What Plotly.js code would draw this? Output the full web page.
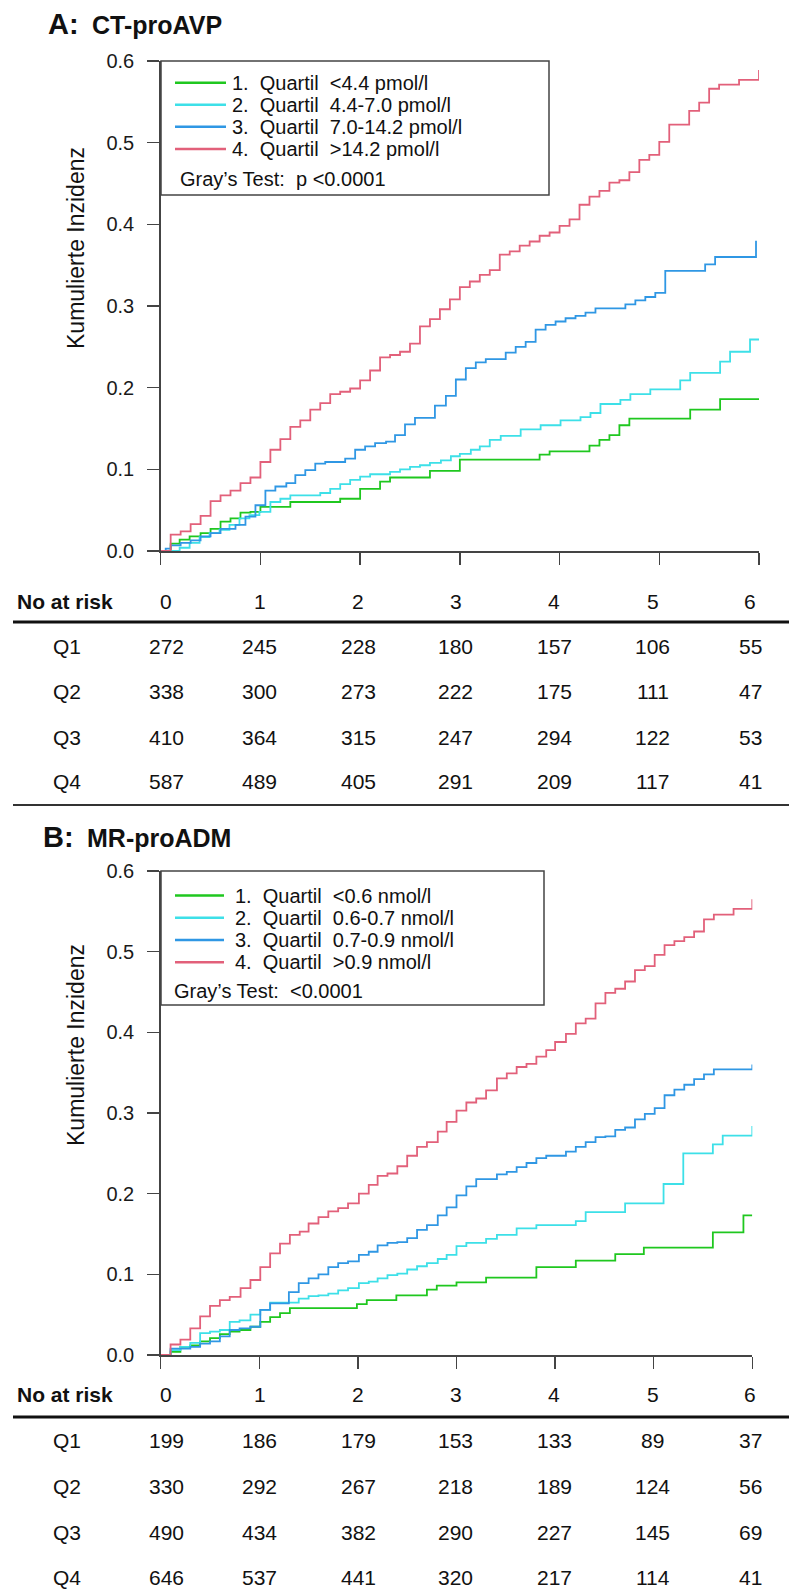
<!DOCTYPE html>
<html>
<head>
<meta charset="utf-8">
<script src="https://cdn.plot.ly/plotly-3.0.1.min.js"></script>
<style>
  html, body { margin: 0; padding: 0; background: #ffffff; }
  #chart { width: 789px; height: 1592px; }
</style>
</head>
<body>
<div id="chart"></div>
<script>
// ---------------- DATA ----------------
const seriesNames = ['Q1', 'Q2', 'Q3', 'Q4'];
const seriesColors = ['#1FC71F', '#3DE0E8', '#2F97E4', '#E2607A'];

// Panel A: CT-proAVP (time in years, cumulative incidence)
const A_Q1_t = [0, 0.10, 0.19, 0.29, 0.40, 0.50, 0.60, 0.70, 0.80, 0.90, 1.00, 1.30, 1.80, 2.00, 2.20, 2.30, 2.70, 3.00, 3.80, 3.90, 4.30, 4.40, 4.50, 4.60, 4.70, 5.31, 5.61, 6.00];
const A_Q1_v = [0, 0.009, 0.014, 0.018, 0.022, 0.027, 0.036, 0.040, 0.047, 0.048, 0.054, 0.060, 0.064, 0.076, 0.085, 0.090, 0.098, 0.112, 0.118, 0.122, 0.129, 0.136, 0.142, 0.154, 0.162, 0.173, 0.186, 0.186];

const A_Q2_t = [0, 0.19, 0.29, 0.39, 0.49, 0.59, 0.69, 0.79, 0.89, 0.99, 1.10, 1.20, 1.30, 1.60, 1.70, 1.80, 1.90, 2.00, 2.10, 2.30, 2.40, 2.50, 2.60, 2.70, 2.81, 2.91, 3.00, 3.11, 3.20, 3.30, 3.41, 3.61, 3.81, 4.01, 4.21, 4.31, 4.41, 4.61, 4.71, 4.91, 5.21, 5.31, 5.61, 5.71, 5.91, 6.00];
const A_Q2_v = [0, 0.004, 0.010, 0.017, 0.022, 0.026, 0.032, 0.040, 0.044, 0.048, 0.060, 0.064, 0.068, 0.071, 0.076, 0.082, 0.087, 0.091, 0.094, 0.097, 0.100, 0.103, 0.105, 0.108, 0.111, 0.116, 0.119, 0.124, 0.128, 0.136, 0.141, 0.149, 0.154, 0.160, 0.164, 0.169, 0.180, 0.185, 0.192, 0.198, 0.209, 0.218, 0.232, 0.244, 0.259, 0.259];

const A_Q3_t = [0, 0.05, 0.10, 0.20, 0.30, 0.40, 0.50, 0.60, 0.75, 0.85, 0.95, 1.05, 1.15, 1.26, 1.35, 1.45, 1.55, 1.65, 1.85, 1.95, 2.05, 2.15, 2.26, 2.35, 2.45, 2.55, 2.75, 2.86, 2.96, 3.06, 3.16, 3.26, 3.46, 3.56, 3.66, 3.76, 3.86, 3.96, 4.06, 4.16, 4.26, 4.36, 4.66, 4.76, 4.86, 4.96, 5.06, 5.46, 5.56, 5.97];
const A_Q3_v = [0, 0.003, 0.007, 0.010, 0.013, 0.018, 0.022, 0.027, 0.032, 0.042, 0.056, 0.074, 0.079, 0.083, 0.093, 0.099, 0.107, 0.109, 0.113, 0.124, 0.128, 0.132, 0.134, 0.142, 0.155, 0.163, 0.178, 0.190, 0.210, 0.224, 0.231, 0.235, 0.243, 0.250, 0.256, 0.271, 0.277, 0.281, 0.285, 0.288, 0.292, 0.297, 0.302, 0.307, 0.311, 0.316, 0.343, 0.351, 0.360, 0.380];

const A_Q4_t = [0, 0.1, 0.2, 0.3, 0.4, 0.5, 0.6, 0.7, 0.8, 0.9, 1.0, 1.1, 1.2, 1.3, 1.4, 1.5, 1.6, 1.7, 1.8, 1.9, 2.0, 2.1, 2.2, 2.3, 2.4, 2.5, 2.6, 2.7, 2.8, 2.9, 3.0, 3.1, 3.2, 3.3, 3.4, 3.5, 3.6, 3.7, 3.8, 3.9, 4.0, 4.1, 4.2, 4.3, 4.4, 4.5, 4.6, 4.7, 4.8, 4.9, 5.0, 5.1, 5.3, 5.4, 5.5, 5.6, 5.8, 6.0];
const A_Q4_v = [0, 0.020, 0.024, 0.033, 0.043, 0.061, 0.068, 0.074, 0.083, 0.090, 0.109, 0.124, 0.137, 0.152, 0.160, 0.173, 0.181, 0.192, 0.195, 0.199, 0.209, 0.221, 0.237, 0.240, 0.244, 0.254, 0.275, 0.284, 0.296, 0.308, 0.323, 0.330, 0.338, 0.344, 0.363, 0.367, 0.374, 0.379, 0.386, 0.390, 0.398, 0.406, 0.424, 0.434, 0.441, 0.451, 0.454, 0.464, 0.479, 0.485, 0.501, 0.522, 0.539, 0.549, 0.566, 0.571, 0.577, 0.589];

// Panel B: MR-proADM
const B_Q1_t = [0, 0.10, 0.20, 0.30, 0.40, 0.50, 0.60, 0.70, 0.80, 0.91, 1.01, 1.11, 1.21, 1.31, 1.99, 2.09, 2.39, 2.70, 2.80, 3.00, 3.30, 3.81, 4.21, 4.61, 4.90, 5.60, 5.91, 6.00];
const B_Q1_v = [0, 0.004, 0.010, 0.012, 0.017, 0.021, 0.026, 0.029, 0.031, 0.035, 0.041, 0.047, 0.052, 0.058, 0.063, 0.068, 0.074, 0.081, 0.086, 0.090, 0.096, 0.109, 0.117, 0.125, 0.133, 0.152, 0.173, 0.173];

const B_Q2_t = [0, 0.10, 0.20, 0.30, 0.40, 0.50, 0.60, 0.70, 0.80, 0.91, 1.01, 1.11, 1.40, 1.50, 1.60, 1.70, 1.80, 1.90, 2.01, 2.11, 2.20, 2.30, 2.40, 2.50, 2.60, 2.70, 2.81, 2.90, 3.00, 3.10, 3.30, 3.41, 3.61, 3.81, 4.21, 4.31, 4.71, 5.10, 5.30, 5.60, 5.70, 6.00];
const B_Q2_v = [0, 0.006, 0.010, 0.015, 0.027, 0.029, 0.031, 0.041, 0.043, 0.050, 0.056, 0.065, 0.070, 0.073, 0.074, 0.076, 0.080, 0.083, 0.089, 0.091, 0.095, 0.099, 0.101, 0.106, 0.110, 0.114, 0.119, 0.124, 0.135, 0.139, 0.144, 0.149, 0.157, 0.161, 0.166, 0.177, 0.188, 0.212, 0.250, 0.261, 0.272, 0.284];

const B_Q3_t = [0, 0.10, 0.30, 0.40, 0.50, 0.60, 0.70, 0.80, 0.91, 1.01, 1.11, 1.30, 1.40, 1.50, 1.60, 1.70, 1.80, 1.90, 2.01, 2.11, 2.20, 2.30, 2.40, 2.50, 2.60, 2.70, 2.81, 2.90, 3.00, 3.10, 3.20, 3.41, 3.51, 3.61, 3.71, 3.81, 3.91, 4.11, 4.21, 4.31, 4.41, 4.51, 4.61, 4.71, 4.81, 4.91, 5.01, 5.11, 5.21, 5.31, 5.41, 5.51, 5.61, 6.00];
const B_Q3_v = [0, 0.008, 0.010, 0.014, 0.017, 0.023, 0.031, 0.033, 0.035, 0.056, 0.064, 0.078, 0.089, 0.095, 0.100, 0.109, 0.114, 0.116, 0.124, 0.128, 0.136, 0.139, 0.140, 0.145, 0.155, 0.161, 0.173, 0.183, 0.198, 0.209, 0.218, 0.224, 0.227, 0.233, 0.238, 0.244, 0.247, 0.252, 0.258, 0.264, 0.270, 0.271, 0.279, 0.282, 0.292, 0.299, 0.306, 0.322, 0.329, 0.335, 0.342, 0.348, 0.354, 0.360];

const B_Q4_t = [0, 0.10, 0.20, 0.30, 0.40, 0.50, 0.60, 0.70, 0.81, 0.91, 1.01, 1.11, 1.21, 1.31, 1.41, 1.50, 1.60, 1.70, 1.80, 1.90, 2.01, 2.11, 2.20, 2.30, 2.40, 2.50, 2.60, 2.70, 2.81, 2.90, 3.00, 3.10, 3.20, 3.30, 3.41, 3.51, 3.61, 3.71, 3.81, 3.91, 4.00, 4.11, 4.21, 4.31, 4.41, 4.51, 4.61, 4.71, 4.81, 4.91, 5.01, 5.11, 5.21, 5.31, 5.41, 5.51, 5.61, 5.81, 6.00];
const B_Q4_v = [0, 0.013, 0.019, 0.033, 0.048, 0.061, 0.068, 0.072, 0.083, 0.093, 0.109, 0.126, 0.138, 0.149, 0.153, 0.163, 0.171, 0.178, 0.182, 0.188, 0.200, 0.211, 0.222, 0.225, 0.234, 0.247, 0.258, 0.264, 0.277, 0.289, 0.303, 0.313, 0.318, 0.328, 0.343, 0.349, 0.357, 0.361, 0.370, 0.378, 0.388, 0.398, 0.411, 0.417, 0.436, 0.449, 0.454, 0.463, 0.477, 0.482, 0.496, 0.508, 0.513, 0.518, 0.525, 0.540, 0.546, 0.553, 0.565];

// Legend labels
const legendA = ['1.\u00A0\u00A0Quartil\u00A0\u00A0<4.4 pmol/l', '2.\u00A0\u00A0Quartil\u00A0\u00A04.4-7.0 pmol/l', '3.\u00A0\u00A0Quartil\u00A0\u00A07.0-14.2 pmol/l', '4.\u00A0\u00A0Quartil\u00A0\u00A0>14.2 pmol/l'];
const legendB = ['1.\u00A0\u00A0Quartil\u00A0\u00A0<0.6 nmol/l', '2.\u00A0\u00A0Quartil\u00A0\u00A00.6-0.7 nmol/l', '3.\u00A0\u00A0Quartil\u00A0\u00A00.7-0.9 nmol/l', '4.\u00A0\u00A0Quartil\u00A0\u00A0>0.9 nmol/l'];
const testA = 'Gray\u2019s Test:\u00A0\u00A0p <0.0001';
const testB = 'Gray\u2019s Test:\u00A0\u00A0<0.0001';

// Tick labels
const yTickVals = [0, 0.1, 0.2, 0.3, 0.4, 0.5, 0.6];
const yTickText = ['0.0', '0.1', '0.2', '0.3', '0.4', '0.5', '0.6'];
const timeLabels = ['0', '1', '2', '3', '4', '5', '6'];

// Numbers at risk
const riskA_Q1 = [272, 245, 228, 180, 157, 106, 55];
const riskA_Q2 = [338, 300, 273, 222, 175, 111, 47];
const riskA_Q3 = [410, 364, 315, 247, 294, 122, 53];
const riskA_Q4 = [587, 489, 405, 291, 209, 117, 41];
const riskB_Q1 = [199, 186, 179, 153, 133, 89, 37];
const riskB_Q2 = [330, 292, 267, 218, 189, 124, 56];
const riskB_Q3 = [490, 434, 382, 290, 227, 145, 69];
const riskB_Q4 = [646, 537, 441, 320, 217, 114, 41];

// ---------------- LAYOUT HELPERS ----------------
const W = 789, H = 1592;
const FONT = 'Liberation Sans, Arial, sans-serif';
const px = v => v / W;
const py = v => 1 - v / H;

const traces = [];
function addPanel(ts, vs, xa, ya) {
  for (let i = 0; i < 4; i++) {
    traces.push({
      type: 'scatter', mode: 'lines', x: ts[i], y: vs[i],
      xaxis: xa, yaxis: ya, name: seriesNames[i], showlegend: false,
      line: { color: seriesColors[i], width: 1.8, shape: 'hv' },
      hoverinfo: 'skip'
    });
  }
}
addPanel([A_Q1_t, A_Q2_t, A_Q3_t, A_Q4_t], [A_Q1_v, A_Q2_v, A_Q3_v, A_Q4_v], 'x', 'y');
addPanel([B_Q1_t, B_Q2_t, B_Q3_t, B_Q4_t], [B_Q1_v, B_Q2_v, B_Q3_v, B_Q4_v], 'x2', 'y2');

const axisColor = '#444444';
function xAxis(domain) {
  return {
    domain: domain, range: [0, 6], showline: true, linecolor: axisColor, linewidth: 1.5,
    ticks: 'outside', ticklen: 12, tickwidth: 1.5, tickcolor: axisColor,
    tickvals: [0, 1, 2, 3, 4, 5, 6], showticklabels: false,
    showgrid: false, zeroline: false, fixedrange: true
  };
}
function yAxis(domain, anchor) {
  return {
    domain: domain, range: [0, 0.6], anchor: anchor, showline: true, linecolor: axisColor, linewidth: 1.5,
    ticks: 'outside', ticklen: 12, tickwidth: 1.5, tickcolor: axisColor,
    tickvals: yTickVals, ticktext: yTickText, ticklabelstandoff: 9,
    tickfont: { family: FONT, size: 20, color: '#1a1a1a' },
    showgrid: false, zeroline: false, fixedrange: true
  };
}

const shapes = [];
const annotations = [];

function text(x, y, str, opts) {
  annotations.push(Object.assign({
    xref: 'paper', yref: 'paper', x: px(x), y: py(y), text: str, showarrow: false,
    xanchor: 'center', yanchor: 'middle',
    font: { family: FONT, size: 21, color: '#111111' }
  }, opts || {}));
}
function hline(x0, x1, y, w, c) {
  shapes.push({ type: 'line', xref: 'paper', yref: 'paper', x0: px(x0), x1: px(x1), y0: py(y), y1: py(y),
    line: { color: c, width: w } });
}

function panelDecor(cfg) {
  // Panel title
  text(cfg.titleLetterX, cfg.titleY, cfg.letter, { xanchor: 'left', font: { family: FONT, size: 29, color: '#111', weight: 'bold' } });
  text(cfg.titleNameX, cfg.titleY + 1, cfg.name, { xanchor: 'left', font: { family: FONT, size: 25, color: '#111', weight: 'bold' } });
  // y axis title
  text(76, cfg.yTitleY, 'Kumulierte Inzidenz', { textangle: -90, font: { family: FONT, size: 23, color: '#111' } });
  // legend box
  shapes.push({ type: 'rect', xref: 'paper', yref: 'paper', x0: px(cfg.box[0]), x1: px(cfg.box[2]),
    y0: py(cfg.box[3]), y1: py(cfg.box[1]), line: { color: axisColor, width: 1.5 }, fillcolor: 'rgba(255,255,255,0)' });
  for (let i = 0; i < 4; i++) {
    const yy = cfg.legendRows[i];
    hline(cfg.swatch[0], cfg.swatch[1], yy, 2.5, seriesColors[i]);
    text(cfg.legendTextX, yy, cfg.labels[i], { xanchor: 'left', font: { family: FONT, size: 20, color: '#111' } });
  }
  text(cfg.testX, cfg.testY, cfg.test, { xanchor: 'left', font: { family: FONT, size: 20, color: '#111' } });
  // Number at risk table
  text(15, cfg.headerY, 'No at risk', { xanchor: 'left', font: { family: FONT, size: 21, color: '#111', weight: 'bold' } });
  const colX = [166, 259.6, 358, 456, 554, 652.6, 750];
  for (let j = 0; j < 7; j++) text(colX[j], cfg.headerY, timeLabels[j]);
  hline(13, 789, cfg.ruleY, 3, '#111111');
  for (let r = 0; r < 4; r++) {
    text(67, cfg.rowY[r], seriesNames[r]);
    for (let j = 0; j < 7; j++) text(colX[j], cfg.rowY[r], String(cfg.risk[r][j]));
  }
}

panelDecor({
  letter: 'A:', name: 'CT-proAVP', titleLetterX: 46, titleNameX: 90, titleY: 24,
  yTitleY: 248,
  box: [161, 61, 549, 195], swatch: [175, 226], legendTextX: 230,
  legendRows: [82.7, 104.7, 126.7, 149], labels: legendA,
  test: testA, testX: 178, testY: 179,
  headerY: 602, ruleY: 622, rowY: [646, 691, 737, 782],
  risk: [riskA_Q1, riskA_Q2, riskA_Q3, riskA_Q4]
});
panelDecor({
  letter: 'B:', name: 'MR-proADM', titleLetterX: 41, titleNameX: 85, titleY: 837,
  yTitleY: 1045,
  box: [161, 871, 544, 1005], swatch: [175, 224], legendTextX: 233,
  legendRows: [895.5, 917.8, 940, 962.3], labels: legendB,
  test: testB, testX: 172, testY: 991,
  headerY: 1394, ruleY: 1417, rowY: [1440, 1486, 1532, 1577],
  risk: [riskB_Q1, riskB_Q2, riskB_Q3, riskB_Q4]
});
// separator between panels
hline(13, 789, 805, 2, '#333333');

const layout = {
  width: W, height: H,
  margin: { l: 0, r: 0, t: 0, b: 0 },
  paper_bgcolor: '#ffffff', plot_bgcolor: '#ffffff',
  font: { family: FONT, color: '#111' },
  showlegend: false,
  xaxis: Object.assign(xAxis([px(160.7), px(759)]), { anchor: 'y' }),
  yaxis: yAxis([py(551), py(61)], 'x'),
  xaxis2: Object.assign(xAxis([px(160.7), px(752.3)]), { anchor: 'y2' }),
  yaxis2: yAxis([py(1355), py(871)], 'x2'),
  shapes: shapes,
  annotations: annotations
};

Plotly.newPlot('chart', traces, layout, { displayModeBar: false, staticPlot: true });
</script>
</body>
</html>
